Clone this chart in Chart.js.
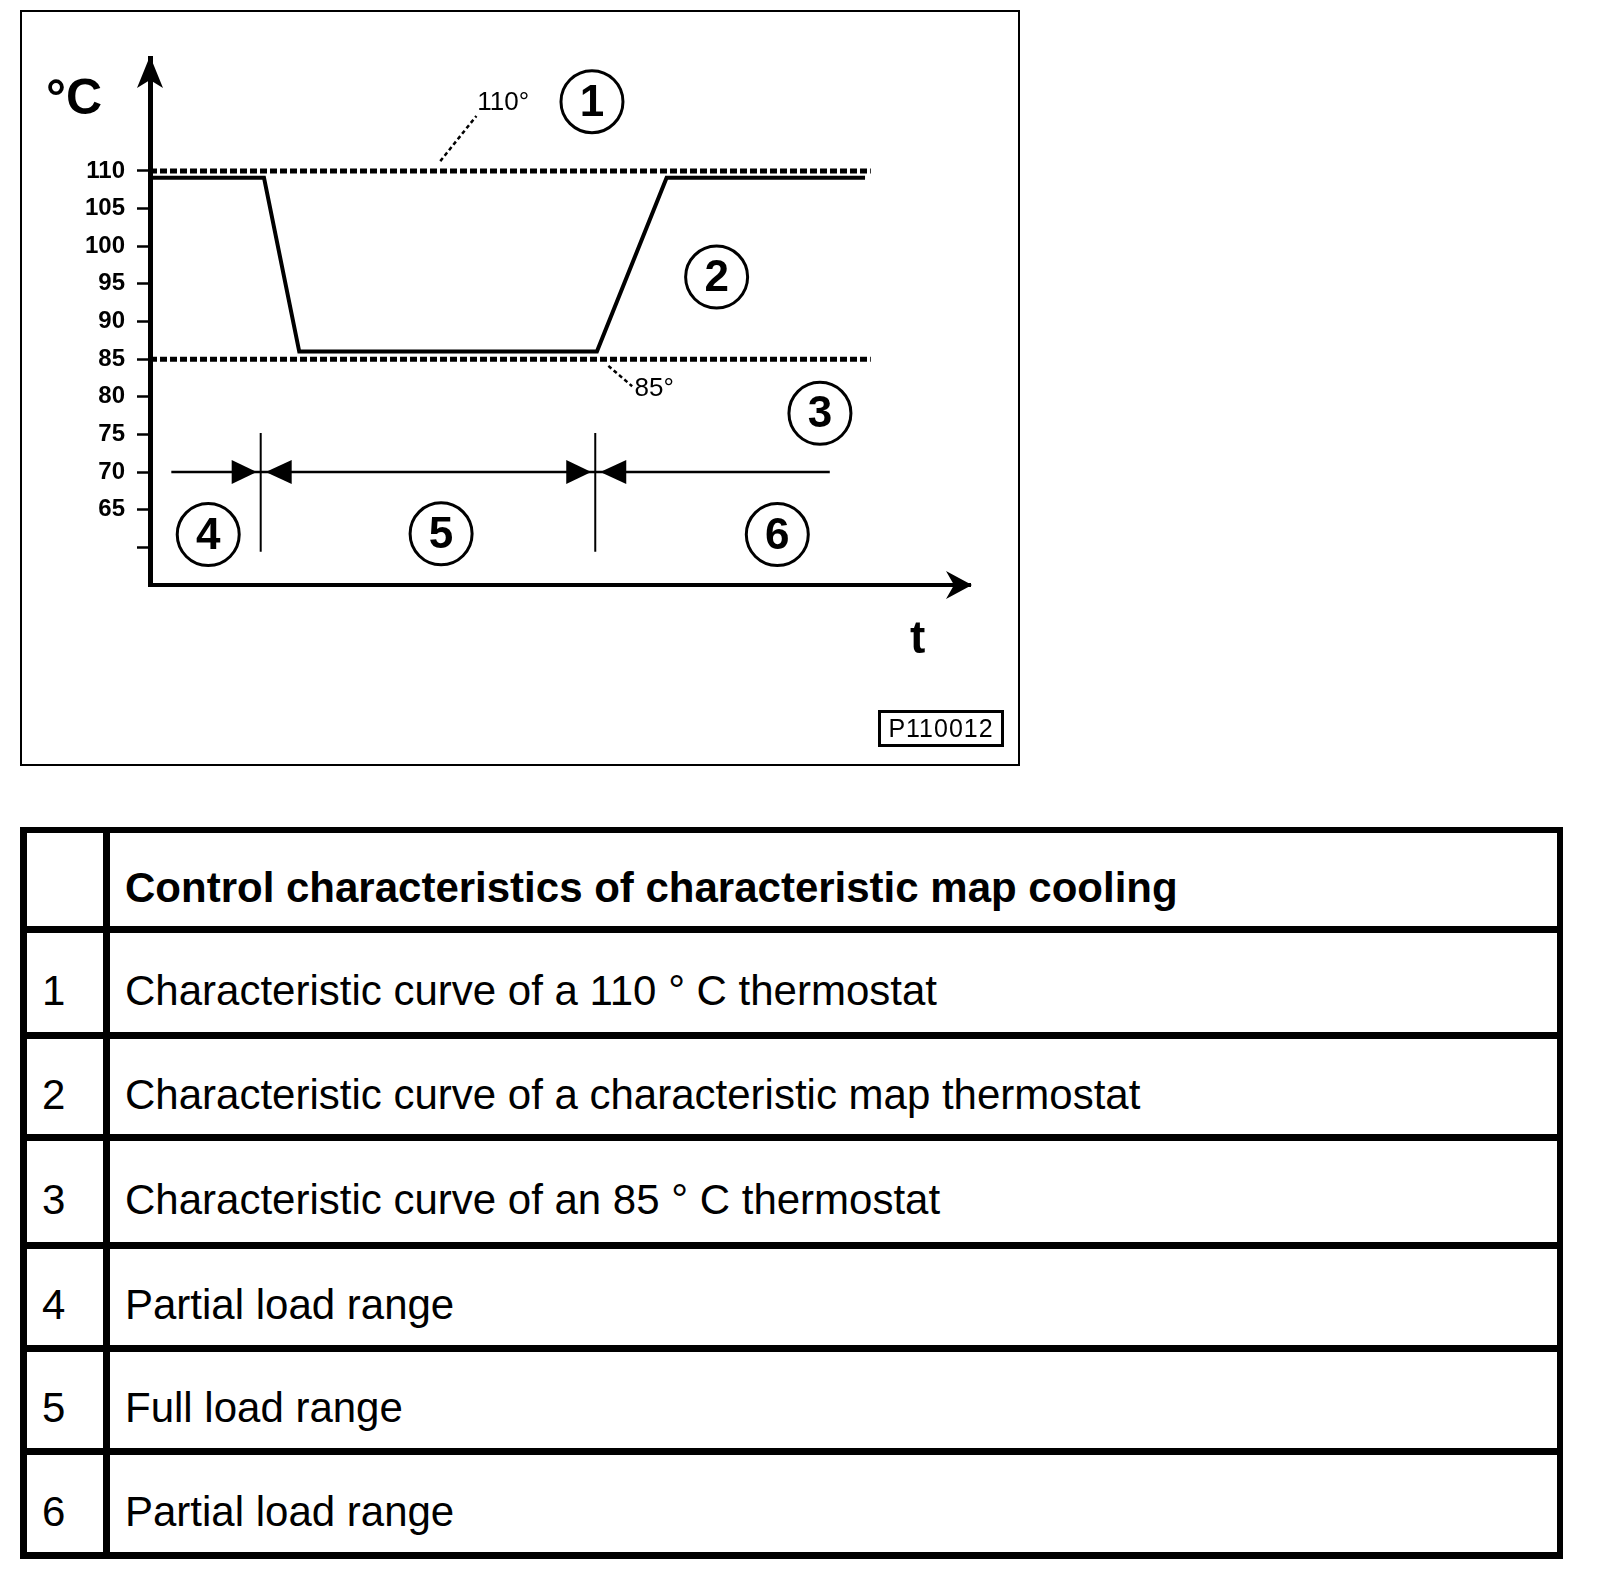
<!DOCTYPE html>
<html>
<head>
<meta charset="utf-8">
<title>Control characteristics of characteristic map cooling</title>
<script src="https://cdn.jsdelivr.net/npm/chart.js@4.4.1/dist/chart.umd.min.js"></script>
<style>
    body { margin: 0; background: #fff; width: 1600px; height: 1574px; position: relative; font-family: "Liberation Sans", Arial, sans-serif; color: #000; }
    #frame { position: absolute; left: 20px; top: 10px; width: 1000px; height: 756px; border: 2px solid #000; box-sizing: border-box; }
    #chart { position: absolute; left: 0; top: 0; }
    #code { position: absolute; left: 878px; top: 710px; width: 126px; height: 37px; border: 3px solid #000; box-sizing: border-box;
            font-size: 25px; line-height: 31px; text-align: center; letter-spacing: 1px; }
    #legend { position: absolute; left: 20px; top: 827px; width: 1543px; border-top: 6px solid #000; border-left: 7px solid #000; border-right: 6px solid #000; box-sizing: border-box; }
    .row { display: flex; box-sizing: border-box; border-bottom: 7px solid #000; }
    .num { width: 83px; flex: none; box-sizing: border-box; border-right: 7px solid #000; padding: 16px 0 0 15px; display: flex; align-items: center; font-size: 42px; }
    .txt { flex: 1; padding: 16px 0 0 15px; display: flex; align-items: center; font-size: 42px; }
    .head .txt { font-weight: bold; }
</style>
</head>
<body>
<div id="frame"></div>
<canvas id="chart" width="1030" height="780"></canvas>
<div id="code">P110012</div>
<div id="legend"></div>

<script>
// ---- chart data ----
const yTicks = [60, 65, 70, 75, 80, 85, 90, 95, 100, 105, 110];
const yTickLabels = ["", "65", "70", "75", "80", "85", "90", "95", "100", "105", "110"];
const yMin = 55, yMax = 125;
const tMin = 0, tMax = 100;

// map thermostat curve (2)
const curveT = [0, 13.9, 18.2, 54.5, 63.0, 87.2];
const curveTemp = [109.1, 109.1, 86.0, 86.0, 109.1, 109.1];

// fixed thermostats (1) and (3)
const thermostatTemps = [110, 85];
const thermostatEnd = 87.9;

// load ranges (4) (5) (6)
const rangeLevel = 70;
const rangeStart = 2.6, rangeEnd = 82.9;
const rangeSplits = [13.5, 54.3];
const splitTop = 75.2, splitBottom = 59.4;

// circled callouts
const calloutNums = ["1", "2", "3", "4", "5", "6"];
const calloutT = [53.9, 69.1, 81.7, 7.1, 35.5, 76.5];
const calloutTemp = [119.2, 95.9, 77.8, 61.7, 61.8, 61.7];

// temperature labels on the two thermostat lines
const tempLabels = ["110°", "85°"];
const tempLabelT = [39.9, 59.1];
const tempLabelTemp = [119.0, 81.0];
const leaderFrom = [[35.4, 111.3], [55.9, 84.1]];
const leaderTo = [[39.8, 117.3], [58.8, 81.4]];

// legend table
const rowNums = ["", "1", "2", "3", "4", "5", "6"];
const rowTexts = [
    "Control characteristics of characteristic map cooling",
    "Characteristic curve of a 110 ° C thermostat",
    "Characteristic curve of a characteristic map thermostat",
    "Characteristic curve of an 85 ° C thermostat",
    "Partial load range",
    "Full load range",
    "Partial load range"
];
const rowHeights = [100, 106, 102, 108, 103, 103, 104];

const FONT = "Liberation Sans, Arial, sans-serif";

function buildLegend() {
    const box = document.getElementById("legend");
    rowTexts.forEach((txt, i) => {
        const row = document.createElement("div");
        row.className = "row" + (i === 0 ? " head" : "");
        row.style.height = rowHeights[i] + "px";
        row.innerHTML = `<div class="num">${rowNums[i]}</div><div class="txt">${txt}</div>`;
        box.appendChild(row);
    });
}

const pts = (xs, ys) => xs.map((x, i) => ({ x, y: ys[i] }));

// arrowheads, circles and labels drawn on top, placed through the scales
const overlay = {
    id: "overlay",
    afterDatasetsDraw(chart) {
        const { ctx, scales: { x, y } } = chart;
        ctx.save();
        ctx.fillStyle = "#000";
        ctx.strokeStyle = "#000";

        // axis arrows
        const ax = x.getPixelForValue(tMin), ay = y.getPixelForValue(yMin);
        const top = y.getPixelForValue(yMax), right = x.getPixelForValue(tMax);
        ctx.beginPath();
        ctx.moveTo(ax, top - 2); ctx.lineTo(ax + 13, top + 30); ctx.lineTo(ax, top + 22); ctx.lineTo(ax - 13, top + 30);
        ctx.closePath(); ctx.fill();
        ctx.beginPath();
        ctx.moveTo(right + 2, ay); ctx.lineTo(right - 24, ay + 14); ctx.lineTo(right - 16, ay); ctx.lineTo(right - 24, ay - 14);
        ctx.closePath(); ctx.fill();

        // dimension arrowheads pointing at each split
        const ry = y.getPixelForValue(rangeLevel);
        rangeSplits.forEach(t => {
            const px = x.getPixelForValue(t);
            ctx.beginPath();
            ctx.moveTo(px - 4, ry); ctx.lineTo(px - 29, ry - 12); ctx.lineTo(px - 29, ry + 12);
            ctx.closePath(); ctx.fill();
            ctx.beginPath();
            ctx.moveTo(px + 5, ry); ctx.lineTo(px + 31, ry - 12); ctx.lineTo(px + 31, ry + 12);
            ctx.closePath(); ctx.fill();
        });

        // circled numbers
        ctx.lineWidth = 3;
        ctx.textAlign = "center";
        ctx.textBaseline = "middle";
        ctx.font = "bold 44px " + FONT;
        calloutNums.forEach((n, i) => {
            const cx = x.getPixelForValue(calloutT[i]), cy = y.getPixelForValue(calloutTemp[i]);
            ctx.beginPath();
            ctx.arc(cx, cy, 31, 0, Math.PI * 2);
            ctx.stroke();
            ctx.fillText(n, cx, cy + 2);
        });

        // leader lines and temperature labels
        ctx.lineWidth = 2.5;
        ctx.setLineDash([4, 3]);
        leaderFrom.forEach((p, i) => {
            ctx.beginPath();
            ctx.moveTo(x.getPixelForValue(p[0]), y.getPixelForValue(p[1]));
            ctx.lineTo(x.getPixelForValue(leaderTo[i][0]), y.getPixelForValue(leaderTo[i][1]));
            ctx.stroke();
        });
        ctx.setLineDash([]);
        ctx.textAlign = "left";
        ctx.font = "26px " + FONT;
        tempLabels.forEach((s, i) => {
            ctx.fillText(s, x.getPixelForValue(tempLabelT[i]), y.getPixelForValue(tempLabelTemp[i]));
        });

        // axis titles
        ctx.textBaseline = "alphabetic";
        ctx.font = "bold 50px " + FONT;
        ctx.fillText("°C", ax - 104, top + 56);
        ctx.font = "bold 46px " + FONT;
        ctx.fillText("t", right - 60, ay + 68);
        ctx.restore();
    }
};

document.addEventListener("DOMContentLoaded", () => {
    buildLegend();

    const dotted = { borderColor: "#000", borderWidth: 5, borderDash: [7, 3], pointRadius: 0, fill: false };
    const thin = { borderColor: "#000", borderWidth: 2, pointRadius: 0, fill: false };

    new Chart(document.getElementById("chart"), {
        type: "line",
        data: {
            datasets: [
                ...thermostatTemps.map(v => ({ ...dotted, label: v + "°", data: [{ x: tMin, y: v }, { x: thermostatEnd, y: v }] })),
                { label: "map thermostat", data: pts(curveT, curveTemp), borderColor: "#000", borderWidth: 4, pointRadius: 0, fill: false, tension: 0 },
                { ...thin, borderWidth: 2.5, label: "load ranges", data: [{ x: rangeStart, y: rangeLevel }, { x: rangeEnd, y: rangeLevel }] },
                ...rangeSplits.map(t => ({ ...thin, label: "split", data: [{ x: t, y: splitTop }, { x: t, y: splitBottom }] }))
            ]
        },
        options: {
            responsive: false,
            animation: false,
            devicePixelRatio: 1,
            layout: { padding: { left: 0, top: 58, right: 60, bottom: 195 } },
            plugins: { legend: { display: false }, tooltip: { enabled: false } },
            scales: {
                x: {
                    type: "linear", min: tMin, max: tMax,
                    ticks: { display: false },
                    grid: { drawOnChartArea: false, drawTicks: false },
                    border: { display: true, color: "#000", width: 4 },
                    afterFit: s => { s.height = 0; }
                },
                y: {
                    min: yMin, max: yMax,
                    afterBuildTicks: axis => { axis.ticks = yTicks.map(v => ({ value: v })); },
                    ticks: {
                        autoSkip: false,
                        padding: 12,
                        color: "#000",
                        font: { family: FONT, size: 24, weight: "bold" },
                        callback: v => yTickLabels[yTicks.indexOf(v)]
                    },
                    grid: { drawOnChartArea: false, drawTicks: true, tickLength: 13, tickWidth: 2.5, tickColor: "#000" },
                    border: { display: true, color: "#000", width: 5 },
                    afterFit: s => { s.width = 150; }
                }
            }
        },
        plugins: [overlay]
    });
});
</script>
</body>
</html>
